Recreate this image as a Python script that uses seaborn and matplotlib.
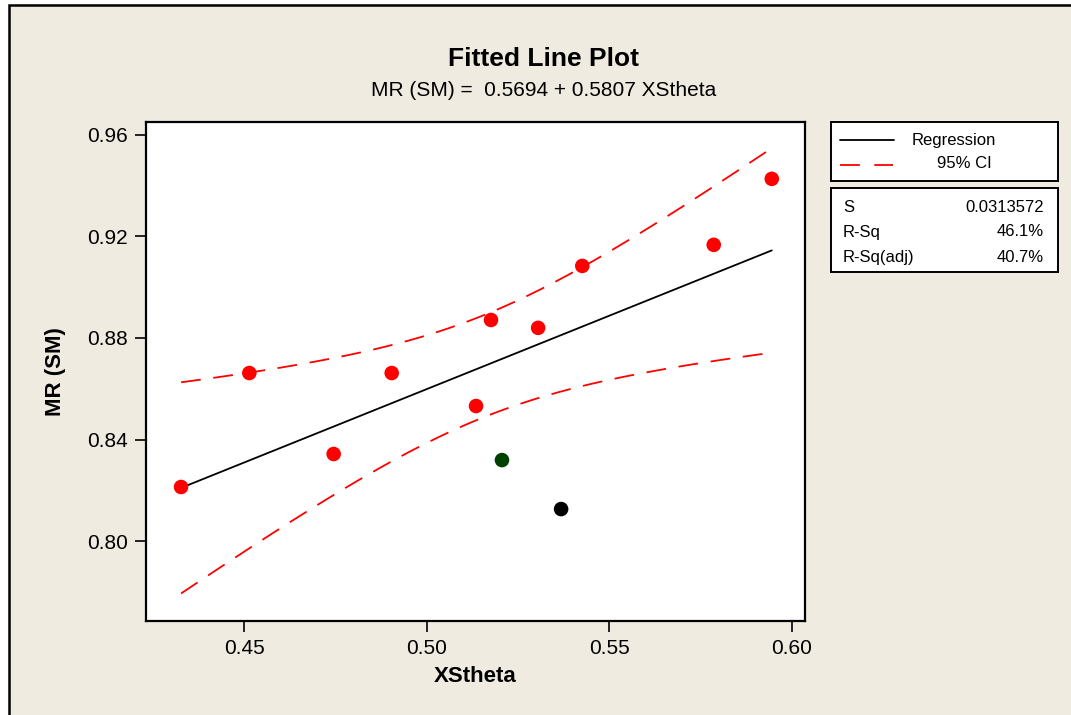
import numpy as np
import pandas as pd
import matplotlib
matplotlib.use("Agg")
import matplotlib.pyplot as plt
from matplotlib.patches import Rectangle
from matplotlib.lines import Line2D
import seaborn as sns

# ---- data ----
xs_theta = [0.4327, 0.4514, 0.4745, 0.4904, 0.5135, 0.5176,
            0.5206, 0.5305, 0.5368, 0.5426, 0.5786, 0.5945]
mr_sm = [0.8213, 0.8662, 0.8343, 0.8662, 0.8532, 0.8871,
         0.8319, 0.8840, 0.8126, 0.9084, 0.9167, 0.9427]
point_group = ["red", "red", "red", "red", "red", "red",
               "green", "red", "black", "red", "red", "red"]

equation = "MR (SM) =  0.5694 + 0.5807 XStheta"
stat_names = ["S", "R-Sq", "R-Sq(adj)"]
stat_values = ["0.0313572", "46.1%", "40.7%"]
x_ticks = [0.45, 0.50, 0.55, 0.60]
y_ticks = [0.80, 0.84, 0.88, 0.92, 0.96]
T_CRIT = 2.228  # t(0.975, df=10)

BEIGE = "#EFEBE1"

sns.set_theme(style="ticks")
plt.rcParams["font.family"] = ["Liberation Sans", "DejaVu Sans"]
plt.rcParams["text.color"] = "black"

df = pd.DataFrame({"XStheta": xs_theta, "MR (SM)": mr_sm, "grp": point_group})

# least squares fit + 95% CI for the mean
x = np.array(xs_theta)
y = np.array(mr_sm)
n = len(x)
slope, intercept = np.polyfit(x, y, 1)
resid = y - (intercept + slope * x)
s = np.sqrt(np.sum(resid ** 2) / (n - 2))
sxx = np.sum((x - x.mean()) ** 2)
xg = np.linspace(x.min(), x.max(), 120)
yg = intercept + slope * xg
hw = T_CRIT * s * np.sqrt(1 / n + (xg - x.mean()) ** 2 / sxx)

fig = plt.figure(figsize=(10.71, 7.15), dpi=100)
fig.patch.set_facecolor("white")

# beige panel with black frame (left/top visible)
W, H = 1071, 715
fig.patches.append(Rectangle((9 / W, -0.05), 1.2, 1 - 5 / H + 0.05,
                             transform=fig.transFigure, facecolor=BEIGE,
                             edgecolor="black", linewidth=1.8, zorder=-5))

ax = fig.add_axes([146 / W, 1 - 621 / H, 659 / W, 499 / H])
ax.set_facecolor("white")

ax.plot(xg, yg + hw, color="red", lw=1.3, dashes=(11, 7), zorder=2)
ax.plot(xg, yg - hw, color="red", lw=1.3, dashes=(11, 7), zorder=2)
sns.lineplot(x=xg, y=yg, color="black", lw=1.3, ax=ax, sort=False,
             estimator=None, zorder=3)
sns.scatterplot(data=df, x="XStheta", y="MR (SM)", hue="grp",
                palette={"red": "#FF0000", "green": "#004000", "black": "black"},
                s=110, linewidth=0, legend=False, ax=ax, zorder=4)

ax.set_xlim(0.4231, 0.6036)
ax.set_ylim(0.7685, 0.9651)
ax.set_xticks(x_ticks)
ax.set_xticklabels([f"{v:.2f}" for v in x_ticks])
ax.set_yticks(y_ticks)
ax.set_yticklabels([f"{v:.2f}" for v in y_ticks])
ax.tick_params(axis="both", direction="out", colors="black", labelsize=15,
               width=1.2, length=8, pad=5)
for sp in ax.spines.values():
    sp.set_visible(True)
    sp.set_color("black")
    sp.set_linewidth(1.6)
ax.set_xlabel("")
ax.set_ylabel("")

fig.text(475 / W, 1 - 677 / H, "XStheta", ha="center", va="center",
         fontsize=16, fontweight="bold")
fig.text(55 / W, 1 - 372 / H, "MR (SM)", ha="center", va="center",
         rotation=90, fontsize=16, fontweight="bold")
fig.text(544 / W, 1 - 59 / H, "Fitted Line Plot", ha="center", va="center",
         fontsize=19, fontweight="bold")
fig.text(544 / W, 1 - 90 / H, equation, ha="center", va="center", fontsize=15)

# legend box
lg = fig.add_axes([831 / W, 1 - 181 / H, 227 / W, 59 / H])
sm = fig.add_axes([831 / W, 1 - 272 / H, 227 / W, 84 / H])
for bx in (lg, sm):
    bx.set_facecolor("white")
    bx.set_xticks([])
    bx.set_yticks([])
    bx.set_xlim(0, 227)
    bx.set_ylim(59 if bx is lg else 84, 0)
    for sp in bx.spines.values():
        sp.set_color("black")
        sp.set_linewidth(1.4)

lg.add_line(Line2D([9, 63], [18, 18], color="black", lw=1.3))
lg.add_line(Line2D([9, 62], [43, 43], color="red", lw=1.3, dashes=(11, 8)))
lg.text(81, 18, "Regression", va="center", ha="left", fontsize=12)
lg.text(106, 42, "95% CI", va="center", ha="left", fontsize=12)

for i, (nm, val) in enumerate(zip(stat_names, stat_values)):
    yy = 19 + i * 25
    sm.text(12, yy, nm, va="center", ha="left", fontsize=12)
    sm.text(213, yy, val, va="center", ha="right", fontsize=12)

fig.savefig("out.png", dpi=100, facecolor=fig.get_facecolor())
